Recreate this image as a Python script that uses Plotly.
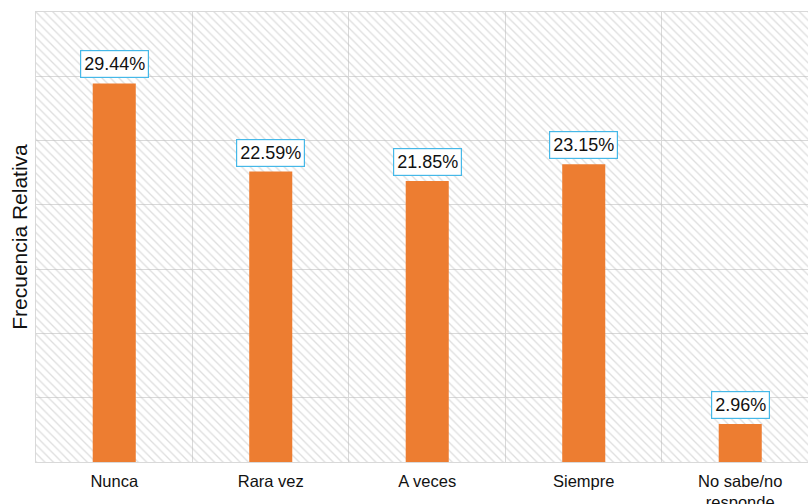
import plotly.graph_objects as go

categories = ["Nunca", "Rara vez", "A veces", "Siempre", "No sabe/no<br>responde"]
values = [29.44, 22.59, 21.85, 23.15, 2.96]
labels = ["29.44%", "22.59%", "21.85%", "23.15%", "2.96%"]

BAR = "#ED7D31"
GRID = "#d9d9d9"
FONT = "Liberation Sans, Arial, sans-serif"

fig = go.Figure()

# hatched plot background (decoration on a hidden overlay axis pair)
fig.add_trace(go.Scatter(
    x=[0, 1, 1, 0, 0], y=[0, 0, 1, 1, 0], xaxis="x", yaxis="y",
    fill="toself", mode="none", fillcolor="rgba(0,0,0,0)",
    fillpattern=dict(shape="\\", fgcolor="#bdbdbd", bgcolor="rgba(0,0,0,0)",
                     size=6, solidity=0.22),
    hoverinfo="skip", showlegend=False,
))

fig.add_trace(go.Bar(
    x=categories, y=values, xaxis="x2", yaxis="y2",
    marker=dict(color=BAR, line=dict(width=0)), width=0.275,
    showlegend=False, hoverinfo="x+y",
))

for c, v, t in zip(categories, values, labels):
    fig.add_annotation(
        x=c, y=v, xref="x2", yref="y2", text=t, showarrow=False,
        yanchor="bottom", yshift=5,
        font=dict(family=FONT, size=18, color="#111111"),
        bgcolor="white", bordercolor="#45b8e8", borderwidth=1.2, borderpad=3,
    )

fig.update_layout(
    width=808, height=504,
    margin=dict(l=36, r=0, t=12, b=42),
    paper_bgcolor="white", plot_bgcolor="white",
    font=dict(family=FONT, color="#111111"),
    xaxis=dict(range=[0, 1], visible=False, fixedrange=True, automargin=False),
    yaxis=dict(range=[0, 1], visible=False, fixedrange=True, automargin=False),
    xaxis2=dict(
        overlaying="x", type="category", range=[-0.5, 4.433],
        tickson="boundaries", showgrid=True, gridcolor=GRID, gridwidth=1,
        ticks="", tickfont=dict(size=16.5, color="#111111"), automargin=False,
        ticklabelstandoff=4,
        showline=True, linecolor=GRID, mirror=True,
    ),
    yaxis2=dict(
        overlaying="y", range=[0, 35], dtick=5, showticklabels=False,
        showgrid=True, gridcolor=GRID, gridwidth=1, zeroline=False,
        showline=True, linecolor=GRID, automargin=False,
        title=dict(text="Frecuencia Relativa", font=dict(size=21, color="#111111"),
                   standoff=1),
    ),
    bargap=0.725,
)

fig.write_html(
    "out.html",
    config={"displayModeBar": False},
    post_script="document.body.style.margin='0';document.body.style.overflow='hidden';",
)
